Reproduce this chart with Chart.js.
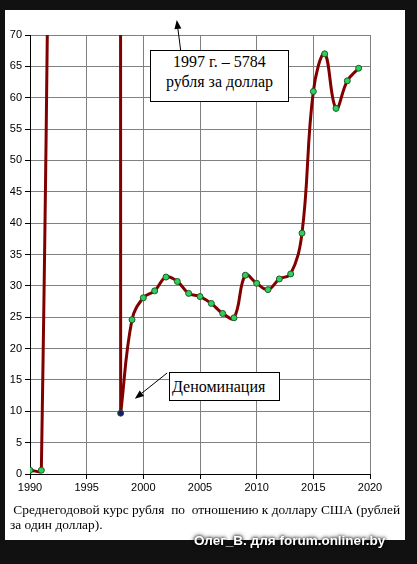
<!DOCTYPE html>
<html>
<head>
<meta charset="utf-8">
<script src="https://cdn.jsdelivr.net/npm/chart.js@4/dist/chart.umd.min.js"></script>
<style>
  html, body { margin: 0; padding: 0; width: 417px; height: 564px; overflow: hidden; background: #111; }
  #panel { position: absolute; left: 5px; top: 10px; width: 400px; height: 530px; background: #fff; }
  #wrap { position: absolute; left: 0; top: 0; width: 417px; height: 564px; }
  .note { position: absolute; background: #fff; border: 1px solid #000; box-sizing: border-box;
          font-family: "Liberation Serif", "Times New Roman", serif; font-size: 16px; color: #000; }
  #note1 { left: 150px; top: 50px; width: 139px; height: 52px; text-align: center; line-height: 20px; padding-top: 1px; }
  #note2 { left: 169px; top: 372px; width: 111px; height: 29px; line-height: 27px; padding-left: 2px; }
  #caption { position: absolute; left: 10px; top: 502px; width: 400px; white-space: pre;
             font-family: "Liberation Serif", "Times New Roman", serif; font-size: 13.4px; line-height: 15px; color: #000; }
  #mark { position: absolute; left: 194px; top: 533px; white-space: pre; color: #fff;
          font-family: "Liberation Sans", Arial, sans-serif; font-weight: bold; font-size: 13.5px;
          text-shadow: 0 0 3px #000, 0 0 5px #000; }
</style>
</head>
<body>
<div id="panel"></div>
<div id="wrap"><canvas id="chart" width="417" height="564"></canvas></div>
<div class="note" id="note1">1997 г. – 5784<br>рубля за доллар</div>
<div class="note" id="note2">Деноминация</div>
<div id="caption"> Среднегодовой курс рубля  по  отношению к доллару США (рублей
за один доллар).</div>
<div id="mark">Олег_В. для forum.onliner.by</div>
<script>
// average rouble / US dollar rate by year
const years = [1990, 1991, 1992, 1993, 1994, 1995, 1996, 1997, 1998, 1999,
  2000, 2001, 2002, 2003, 2004, 2005, 2006, 2007, 2008, 2009,
  2010, 2011, 2012, 2013, 2014, 2015, 2016, 2017, 2018, 2019]
const rates = [0.6, 0.6, 222, 933, 2204, 4554, 5124, 5785, 9.7, 24.6,
  28.1, 29.2, 31.4, 30.7, 28.8, 28.3, 27.2, 25.6, 24.9, 31.7,
  30.4, 29.4, 31.1, 31.9, 38.4, 61.0, 67.0, 58.3, 62.7, 64.7]
const xTicks = [1990, 1995, 2000, 2005, 2010, 2015, 2020]
const yTicks = [0, 5, 10, 15, 20, 25, 30, 35, 40, 45, 50, 55, 60, 65, 70]
const denomYear = 1998

const points = years.map((year, i) => ({ x: year, y: rates[i] }))
const before = points.filter(p => p.x <= denomYear)
const after = points.filter(p => p.x >= denomYear)

const red = '#800000'
const green = '#2fd05a'

const markerColor = (ctx) => (ctx.raw && ctx.raw.x === denomYear) ? '#1a1a70' : green

const lineStyle = {
  borderColor: red,
  borderWidth: 3,
  tension: 0.4,
  pointRadius: 3,
  pointHoverRadius: 3,
  pointBorderWidth: 1,
  pointBorderColor: '#1d5a2a',
  pointBackgroundColor: markerColor,
  fill: false
}

function arrow (ctx, x0, y0, x1, y1) {
  const ang = Math.atan2(y1 - y0, x1 - x0)
  const len = 9
  const half = 3.5
  ctx.save()
  ctx.strokeStyle = '#000'
  ctx.fillStyle = '#000'
  ctx.lineWidth = 1
  ctx.beginPath()
  ctx.moveTo(x0, y0)
  ctx.lineTo(x1 - len * Math.cos(ang), y1 - len * Math.sin(ang))
  ctx.stroke()
  ctx.beginPath()
  ctx.moveTo(x1, y1)
  ctx.lineTo(x1 - len * Math.cos(ang) + half * Math.sin(ang), y1 - len * Math.sin(ang) - half * Math.cos(ang))
  ctx.lineTo(x1 - len * Math.cos(ang) - half * Math.sin(ang), y1 - len * Math.sin(ang) + half * Math.cos(ang))
  ctx.closePath()
  ctx.fill()
  ctx.restore()
}

const arrows = {
  id: 'arrows',
  afterDraw (chart) {
    const { x, y } = chart.scales
    const ctx = chart.ctx
    arrow(ctx, x.getPixelForValue(2003.3), y.getPixelForValue(67.5), x.getPixelForValue(2002.95), y.getPixelForValue(72.4))
    arrow(ctx, x.getPixelForValue(2002.1), y.getPixelForValue(16.1), x.getPixelForValue(1999.25), y.getPixelForValue(12.0))
  }
}

const font = { family: '"Liberation Sans", Arial, sans-serif', size: 11 }

new Chart(document.getElementById('chart').getContext('2d'), {
  type: 'line',
  data: {
    datasets: [
      { ...lineStyle, data: before },
      { ...lineStyle, data: after, pointRadius: (ctx) => (ctx.raw && ctx.raw.x === denomYear) ? 0 : 3 }
    ]
  },
  options: {
    responsive: false,
    animation: false,
    events: [],
    layout: { padding: { left: 0, right: 47, top: 35, bottom: 60 } },
    plugins: { legend: { display: false }, tooltip: { enabled: false } },
    scales: {
      x: {
        type: 'linear',
        min: xTicks[0],
        max: xTicks[xTicks.length - 1],
        afterBuildTicks: (s) => { s.ticks = xTicks.map(v => ({ value: v })) },
        afterFit: (s) => { s.height = 30 },
        grid: { color: '#808080', lineWidth: 1, tickLength: 5, tickColor: '#000' },
        border: { color: '#000', width: 1 },
        ticks: { color: '#000', font, padding: 2, maxRotation: 0, callback: (v) => String(v) }
      },
      y: {
        min: yTicks[0],
        max: yTicks[yTicks.length - 1],
        afterBuildTicks: (s) => { s.ticks = yTicks.map(v => ({ value: v })) },
        afterFit: (s) => { s.width = 30 },
        grid: { color: '#808080', lineWidth: 1, tickLength: 5, tickColor: '#000' },
        border: { color: '#000', width: 1 },
        ticks: { color: '#000', font, padding: 3, callback: (v) => String(v) }
      }
    }
  },
  plugins: [arrows]
})
</script>
</body>
</html>
